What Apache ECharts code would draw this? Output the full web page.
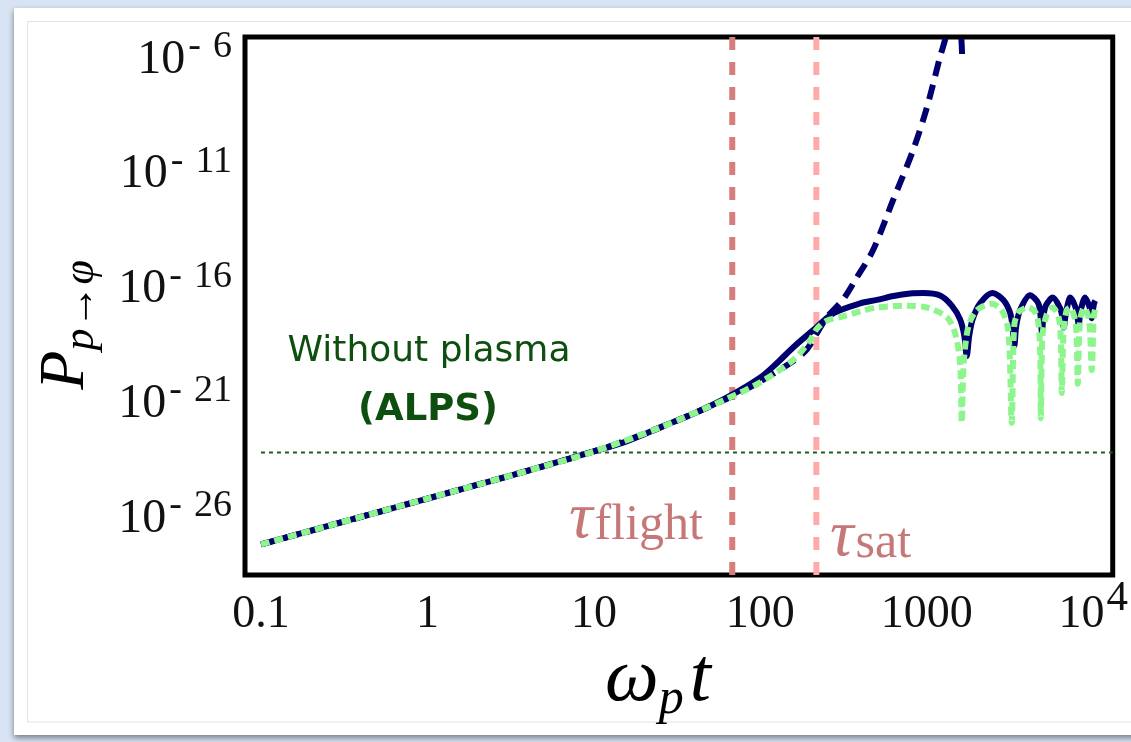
<!DOCTYPE html>
<html><head><meta charset="utf-8">
<script src="https://cdn.jsdelivr.net/npm/echarts@6/dist/echarts.min.js"></script>
<style>html,body{margin:0;padding:0;background:#d8e3f3;overflow:hidden}#c{width:1131px;height:742px}</style>
</head><body><div id="c"></div>
<script>
// All coordinates below are log10 values: x = log10(omega_p t), y = log10(P)
const xMajorLog = [-1, 0, 1, 2, 3, 4];
const xTickLabels = ['0.1', '1', '10', '100', '1000', '10^4'];
const yLabelExp = [-26, -21, -16, -11, -6];
const tauFlight = 67.8;
const tauSat = 217;
const alpsLevelExp = -23.1;

const solidCurve = [
  [-1, -27.1], [0, -25.1], [0.5, -24.1], [1, -23.05], [1.2, -22.6], [1.4, -22.0], [1.6, -21.4],
  [1.8, -20.7], [2.0, -19.83], [2.1, -19.2], [2.2, -18.5], [2.32, -17.75], [2.44, -17.03],
  [2.6, -16.6], [2.7, -16.45], [2.8, -16.28], [2.9, -16.17], [2.98, -16.15], [3.08, -16.26],
  [3.15, -16.7], [3.2, -17.3], [3.225, -18.0], [3.24, -18.9], [3.255, -18.0], [3.275, -17.3],
  [3.32, -16.6], [3.395, -16.15], [3.46, -16.45], [3.5, -17.0], [3.515, -17.6], [3.526, -18.45],
  [3.537, -17.6], [3.56, -16.9], [3.62, -16.25], [3.67, -16.6], [3.684, -17.2], [3.692, -17.9],
  [3.70, -17.2], [3.715, -16.7], [3.757, -16.35], [3.80, -16.8], [3.815, -17.2], [3.823, -17.65],
  [3.832, -17.2], [3.845, -16.7], [3.862, -16.35], [3.895, -16.8], [3.905, -17.2], [3.913, -17.55],
  [3.92, -17.1], [3.935, -16.6], [3.95, -16.35], [3.975, -16.7], [3.985, -17.0], [3.99, -17.25],
  [3.996, -17.0], [4.005, -16.6], [4.012, -16.48]
];

const dashedCurve = [
  [-1, -27.1], [0, -25.1], [1, -23.05], [1.4, -22.0], [1.8, -20.75], [2.0, -20.0], [2.2, -19.1],
  [2.28, -18.6], [2.34, -17.9], [2.4, -17.2], [2.495, -16.45], [2.577, -15.5], [2.676, -14.3],
  [2.796, -12.13], [2.916, -9.96], [3.0, -8.09], [3.078, -5.91], [3.108, -5.17], [3.14, -4.3],
  [3.17, -3.9], [3.2, -4.5], [3.212, -5.74]
];

const dottedCurve = [
  [-1, -27.1], [0, -25.1], [0.5, -24.1], [1, -23.05], [1.4, -22.0], [1.8, -20.75], [2.0, -20.04],
  [2.2, -19.05], [2.3, -18.2], [2.34, -17.7], [2.4, -17.35], [2.48, -17.2], [2.6, -16.95],
  [2.7, -16.78], [2.88, -16.7], [3.0, -16.78], [3.12, -17.2], [3.17, -17.9], [3.2, -19.2],
  [3.21, -21.8], [3.222, -19.2], [3.25, -17.6], [3.3, -16.9], [3.39, -16.62], [3.45, -16.9],
  [3.49, -17.8], [3.51, -21.8], [3.525, -17.6], [3.55, -17.0], [3.61, -16.78], [3.66, -17.1],
  [3.68, -18.5], [3.685, -21.6], [3.695, -18.0], [3.72, -17.1], [3.757, -16.78], [3.795, -17.3],
  [3.806, -18.5], [3.811, -20.5], [3.822, -17.8], [3.84, -16.9], [3.86, -16.78], [3.895, -17.5],
  [3.907, -20.1], [3.92, -17.4], [3.945, -16.78], [3.975, -17.3], [3.991, -19.5], [4.003, -17.2],
  [4.012, -16.8]
];

const XMIN = -1.096, XMAX = 4.117, YMIN = -28.43, YMAX = -5.0;
const SERIF = 'Liberation Serif';

const xMinorLog = [];
for (let n = -2; n <= 4; n++) for (let k = 2; k <= 9; k++) {
  const v = n + Math.log10(k);
  if (v > XMIN && v < XMAX) xMinorLog.push(v);
}
const yTicks = [];
for (let e = -28; e <= -5; e++) yTicks.push(e);

const tickStyle = { color: '#666', width: 1 };
const xLabelRich = {
  b: { fontFamily: SERIF, fontSize: 46, lineHeight: 50, verticalAlign: 'middle', color: '#111' },
  e: { fontFamily: SERIF, fontSize: 43, lineHeight: 20, verticalAlign: 'middle', color: '#111', padding: [0, 0, 32, 2] }
};
const yLabelRich = {
  b: { fontFamily: SERIF, fontSize: 48, lineHeight: 50, verticalAlign: 'middle', color: '#111' },
  m: { fontFamily: SERIF, fontSize: 38, lineHeight: 24, verticalAlign: 'middle', color: '#111', padding: [0, 12, 26, 3] },
  s: { fontFamily: SERIF, fontSize: 38, lineHeight: 24, verticalAlign: 'middle', color: '#111', padding: [0, 0, 26, 0] }
};
function xFmt(v) {
  const i = xMajorLog.indexOf(Math.round(v));
  const lab = xTickLabels[i];
  if (lab.indexOf('^') >= 0) { const p = lab.split('^'); return '{b|' + p[0] + '}{e|' + p[1] + '}'; }
  return '{b|' + lab + '}';
}
function yFmt(v) { return '{b|10}{m|-}{s|' + Math.abs(Math.round(v)) + '}'; }

const gridBox = { left: 245, top: 37, right: 18, bottom: 167 };
function xAx(gridIndex, pos, ticks, len, labels) {
  return {
    type: 'value', gridIndex, position: pos, min: XMIN, max: XMAX,
    axisLine: { show: false }, splitLine: { show: false },
    axisTick: { show: true, inside: true, length: len, lineStyle: tickStyle, customValues: ticks },
    axisLabel: labels ? { show: true, customValues: xMajorLog, formatter: xFmt, rich: xLabelRich, margin: 15, verticalAlign: 'top' } : { show: false }
  };
}
function yAx(gridIndex, pos, show, labels) {
  return {
    type: 'value', gridIndex, position: pos, min: YMIN, max: YMAX, show,
    axisLine: { show: false }, splitLine: { show: false },
    axisTick: { show: true, inside: true, length: 10, lineStyle: tickStyle, customValues: yTicks },
    axisLabel: labels ? { show: true, customValues: yLabelExp, formatter: yFmt, rich: yLabelRich, margin: 13, align: 'right' } : { show: false }
  };
}
const tauRich = {
  t: { fontFamily: SERIF, fontStyle: 'italic', fontSize: 66, fill: '#c67878', lineHeight: 60, verticalAlign: 'middle' },
  s: { fontFamily: SERIF, fontSize: 50, fill: '#c67878', lineHeight: 50, verticalAlign: 'middle', padding: [12, 0, 0, 2] }
};

const chart = echarts.init(document.getElementById('c'), null, { renderer: 'canvas' });
const option = {
  backgroundColor: '#d8e3f3',
  animation: false,
  grid: [
    Object.assign({ show: true, borderColor: '#000', borderWidth: 5, backgroundColor: '#fff', z: 1 }, gridBox),
    Object.assign({ show: false }, gridBox)
  ],
  xAxis: [
    xAx(0, 'bottom', xMajorLog, 9, true),
    xAx(0, 'top', xMajorLog, 9, false),
    xAx(1, 'bottom', xMinorLog, 7, false),
    xAx(1, 'top', xMinorLog, 7, false)
  ],
  yAxis: [
    yAx(0, 'left', true, true),
    yAx(0, 'right', true, false),
    yAx(1, 'left', false, false)
  ],
  graphic: [
    { type: 'rect', z: -10, shape: { x: 14, y: 8, width: 1200, height: 727 }, style: { fill: '#ffffff', shadowBlur: 6, shadowColor: 'rgba(0,0,0,0.45)', shadowOffsetY: 3 } },
    { type: 'rect', z: -9, shape: { x: 27.5, y: 21.5, width: 1200, height: 700.5 }, style: { fill: '#fff', stroke: '#e2e2e2', lineWidth: 1 } },
    { type: 'text', z: 50, x: 429, y: 352, style: { text: 'Without plasma', font: '36px "DejaVu Sans"', fill: '#0e4f10', align: 'center', verticalAlign: 'middle' } },
    { type: 'text', z: 50, x: 428, y: 410, style: { text: '(ALPS)', font: 'bold 37px "DejaVu Sans"', fill: '#0e4f10', align: 'center', verticalAlign: 'middle' } },
    { type: 'text', z: 50, x: 569, y: 520, style: { text: '{t|τ}{s|flight}', verticalAlign: 'middle', rich: tauRich } },
    { type: 'text', z: 50, x: 830, y: 538, style: { text: '{t|τ}{s|sat}', verticalAlign: 'middle', rich: tauRich } },
    { type: 'text', z: 50, x: 658, y: 680, style: { text: '{w|ω}{p|p}{t|t}', align: 'center', verticalAlign: 'middle', rich: {
      w: { fontFamily: SERIF, fontStyle: 'italic', fontSize: 76, fill: '#000', lineHeight: 76, verticalAlign: 'middle' },
      p: { fontFamily: SERIF, fontStyle: 'italic', fontSize: 50, fill: '#000', lineHeight: 50, verticalAlign: 'middle', padding: [40, 6, 0, 0] },
      t: { fontFamily: SERIF, fontStyle: 'italic', fontSize: 76, fill: '#000', lineHeight: 76, verticalAlign: 'middle' } } } },
    { type: 'text', z: 50, x: 66, y: 325, rotation: Math.PI / 2, style: { text: '{P|P}{s|p→φ}', align: 'center', verticalAlign: 'middle', rich: {
      P: { fontFamily: SERIF, fontStyle: 'italic', fontSize: 64, fill: '#000', lineHeight: 64, verticalAlign: 'middle' },
      s: { fontFamily: SERIF, fontStyle: 'italic', fontSize: 44, fill: '#000', lineHeight: 44, verticalAlign: 'middle', padding: [30, 0, 0, 0] } } } }
  ],
  series: [
    { type: 'line', name: 'flight', xAxisIndex: 0, yAxisIndex: 0, z: 2, symbol: 'none', silent: true,
      data: [[Math.log10(tauFlight), YMIN], [Math.log10(tauFlight), YMAX]],
      lineStyle: { color: '#d67e7e', width: 6, type: [13, 12], cap: 'butt' } },
    { type: 'line', name: 'sat', xAxisIndex: 0, yAxisIndex: 0, z: 2, symbol: 'none', silent: true,
      data: [[Math.log10(tauSat), YMIN], [Math.log10(tauSat), YMAX]],
      lineStyle: { color: '#ffa9a9', width: 6, type: [13, 12], cap: 'butt' } },
    { type: 'line', name: 'alps', xAxisIndex: 0, yAxisIndex: 0, z: 2, symbol: 'none', silent: true,
      data: [[-1, alpsLevelExp], [XMAX, alpsLevelExp]],
      lineStyle: { color: '#1f5c1f', width: 2, type: [4, 4] } },
    { type: 'line', name: 'solid', xAxisIndex: 0, yAxisIndex: 0, z: 3, symbol: 'none', smooth: 0.3, data: solidCurve,
      lineStyle: { color: '#00006e', width: 6, join: 'round' } },
    { type: 'line', name: 'dashed', xAxisIndex: 0, yAxisIndex: 0, z: 4, symbol: 'none', smooth: 0.3, data: dashedCurve,
      lineStyle: { color: '#00006e', width: 6, type: [15, 9], cap: 'butt' } },
    { type: 'line', name: 'dotted', xAxisIndex: 0, yAxisIndex: 0, z: 5, symbol: 'none', smooth: 0.3, data: dottedCurve,
      lineStyle: { color: '#8cf58c', width: 6, type: [9, 5], cap: 'butt' } }
  ]
};
chart.setOption(option);
</script>
</body></html>
